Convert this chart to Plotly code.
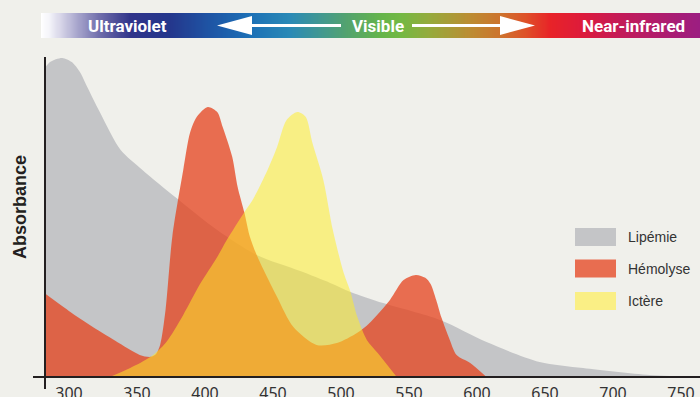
import numpy as np
import plotly.graph_objects as go

W, H = 700, 397
BG = "#F0F0EB"

# ---------------- data (wavelength nm, absorbance a.u.) ----------------
lipemie_nm = [280, 286, 295, 302, 308, 312, 323, 338, 354, 379, 409, 438, 470, 492,
              507, 531, 573, 607, 646, 678, 727, 765]
lipemie_abs = [0.95, 0.984, 0.997, 0.984, 0.953, 0.919, 0.825, 0.709, 0.647, 0.559,
               0.459, 0.381, 0.331, 0.294, 0.266, 0.231, 0.178, 0.109, 0.047, 0.028,
               0.006, 0.0]

hemolyse_nm = [280, 301, 315, 334, 352, 360, 364, 367, 371, 376, 384,
               389, 394, 402, 409, 413, 420, 424, 429, 433, 438, 453, 465, 482, 497,
               512, 521, 536, 546, 555, 562, 566, 570, 574, 580, 585, 595, 607]
hemolyse_abs = [0.268, 0.203, 0.163, 0.113, 0.069, 0.063, 0.072, 0.100, 0.21, 0.44,
                0.647, 0.763, 0.813, 0.844, 0.828, 0.781, 0.688, 0.594,
                0.513, 0.438, 0.381, 0.250, 0.156, 0.100, 0.106, 0.138, 0.169, 0.241,
                0.303, 0.319, 0.310, 0.290, 0.241, 0.184, 0.116, 0.069, 0.044, 0.0]

ictere_nm = [330, 345, 360, 371, 384, 396, 409, 416, 429, 435, 446, 453, 460, 468,
             474, 479, 487, 494, 502, 507, 512, 519, 527, 541]
ictere_abs = [0.0, 0.028, 0.063, 0.106, 0.194, 0.288, 0.375, 0.428, 0.516, 0.553,
              0.647, 0.719, 0.803, 0.828, 0.813, 0.731, 0.616, 0.459, 0.325, 0.266,
              0.188, 0.116, 0.075, 0.0]

tick_vals = [300, 350, 400, 450, 500, 550, 600, 650, 700, 750]
series_names = ["Lipémie", "Hémolyse", "Ictère"]
band_labels = ["Ultraviolet", "Visible", "Near-infrared"]

# spectrum bar colour stops (position along bar, colour)
spectrum_pos = [0.0, 0.011, 0.029, 0.059, 0.089, 0.135, 0.196, 0.256, 0.317, 0.378,
                0.423, 0.461, 0.514, 0.545, 0.59, 0.651, 0.697, 0.734, 0.772, 0.818,
                0.879, 1.0]
spectrum_col = ["rgb(255,255,255)", "rgb(245,245,250)", "rgb(215,213,232)",
                "rgb(160,158,200)", "rgb(110,108,170)", "rgb(48,52,138)",
                "rgb(36,55,140)", "rgb(30,85,165)", "rgb(28,112,182)",
                "rgb(42,138,182)", "rgb(65,152,145)", "rgb(82,162,112)",
                "rgb(100,180,75)", "rgb(115,185,68)", "rgb(150,170,60)",
                "rgb(188,140,50)", "rgb(205,115,45)", "rgb(222,82,40)",
                "rgb(232,35,40)", "rgb(222,27,58)", "rgb(195,27,88)",
                "rgb(155,30,130)"]

# ---------------- helpers (pixel -> paper) ----------------
def px(x):
    return x / W

def py(y):
    return 1 - y / H

fig = go.Figure()

fill_cols = ["rgb(196,197,199)", "rgba(229,65,28,0.75)", "rgba(255,238,39,0.52)"]
legend_cols = ["#C4C5C7", "#E86D50", "#FAEF85"]
for name, xs, ys, col in zip(series_names,
                             [lipemie_nm, hemolyse_nm, ictere_nm],
                             [lipemie_abs, hemolyse_abs, ictere_abs],
                             fill_cols):
    fig.add_trace(go.Scatter(x=xs, y=ys, name=name, mode="lines",
                             line=dict(width=0, shape="spline", smoothing=0.8),
                             fill="tozeroy", fillcolor=col,
                             hoverinfo="skip", showlegend=False,
                             xaxis="x", yaxis="y"))

# spectrum gradient bar
gx = np.linspace(0, 1, 300)
fig.add_trace(go.Heatmap(x=gx, y=[0], z=[gx], zmin=0, zmax=1,
                         colorscale=[[p, c] for p, c in zip(spectrum_pos, spectrum_col)],
                         showscale=False, zsmooth="best", hoverinfo="skip",
                         xaxis="x2", yaxis="y2"))

shapes = []
# axes lines
shapes.append(dict(type="line", xref="paper", yref="paper", x0=px(33), x1=px(700),
                   y0=py(377), y1=py(377), line=dict(color="#231F20", width=2)))
shapes.append(dict(type="line", xref="paper", yref="paper", x0=px(45), x1=px(45),
                   y0=py(57), y1=py(389), line=dict(color="#231F20", width=2)))
# arrows in the spectrum bar
shapes.append(dict(type="line", xref="paper", yref="paper", x0=px(250), x1=px(341),
                   y0=py(25.5), y1=py(25.5), line=dict(color="white", width=3)))
shapes.append(dict(type="path", xref="paper", yref="paper",
                   path=f"M {px(217)} {py(25.5)} L {px(252)} {py(16)} L {px(252)} {py(35)} Z",
                   fillcolor="white", line=dict(width=0)))
shapes.append(dict(type="line", xref="paper", yref="paper", x0=px(412), x1=px(502),
                   y0=py(25.5), y1=py(25.5), line=dict(color="white", width=3)))
shapes.append(dict(type="path", xref="paper", yref="paper",
                   path=f"M {px(535)} {py(25.5)} L {px(500)} {py(16)} L {px(500)} {py(35)} Z",
                   fillcolor="white", line=dict(width=0)))

annotations = []
# legend
leg_y = [237, 268.5, 301]
for name, col, yc in zip(series_names, legend_cols, leg_y):
    shapes.append(dict(type="rect", xref="paper", yref="paper",
                       x0=px(575), x1=px(616), y0=py(yc - 9), y1=py(yc + 9),
                       fillcolor=col, line=dict(width=0)))
    annotations.append(dict(text=name, xref="paper", yref="paper", x=px(626), y=py(yc),
                            xanchor="left", yanchor="middle", showarrow=False,
                            font=dict(family="Liberation Sans, Arial", size=14, color="#333333")))

# band labels
for txt, xc in zip(band_labels, [127, 377.5, 633.5]):
    annotations.append(dict(text=f"<b>{txt}</b>", xref="paper", yref="paper", x=px(xc),
                            y=py(25.5), xanchor="center", yanchor="middle", showarrow=False,
                            font=dict(family="Roboto, Liberation Sans", size=17, color="white")))

annotations.append(dict(text="<b>Absorbance</b>", xref="paper", yref="paper", x=px(20),
                        y=py(207), xanchor="center", yanchor="middle", textangle=-90,
                        showarrow=False,
                        font=dict(family="Liberation Sans, Arial", size=18, color="#231F20")))

x_left = 300 - (69 - 45) / 1.36
x_right = 300 + (700 - 69) / 1.36

fig.update_layout(
    width=W, height=H, autosize=False, margin=dict(l=0, r=0, t=0, b=0, pad=0),
    paper_bgcolor=BG, plot_bgcolor=BG, showlegend=False,
    xaxis=dict(domain=[px(45), 1], range=[x_left, x_right], tickvals=tick_vals,
               ticktext=[str(v) for v in tick_vals], showgrid=False, zeroline=False,
               showline=False, ticks="outside", ticklen=2, tickcolor=BG,
               tickfont=dict(family="Noto Sans, Open Sans", size=16, color="#333333"),
               anchor="y", fixedrange=True, automargin=False),
    yaxis=dict(domain=[py(377), py(57)], range=[0, 1], visible=False,
               anchor="x", fixedrange=True, automargin=False),
    xaxis2=dict(domain=[px(41), 1], range=[0, 1], visible=False, anchor="y2",
                fixedrange=True, automargin=False),
    yaxis2=dict(domain=[py(38), py(13)], range=[-0.5, 0.5], visible=False, anchor="x2",
                fixedrange=True, automargin=False),
    shapes=shapes, annotations=annotations,
)

fig.write_html(
    "out.html",
    config={"displayModeBar": False, "responsive": False, "staticPlot": True},
    post_script="document.body.style.margin='0';document.body.style.overflow='hidden';"
                f"document.body.style.background='{BG}';",
)
